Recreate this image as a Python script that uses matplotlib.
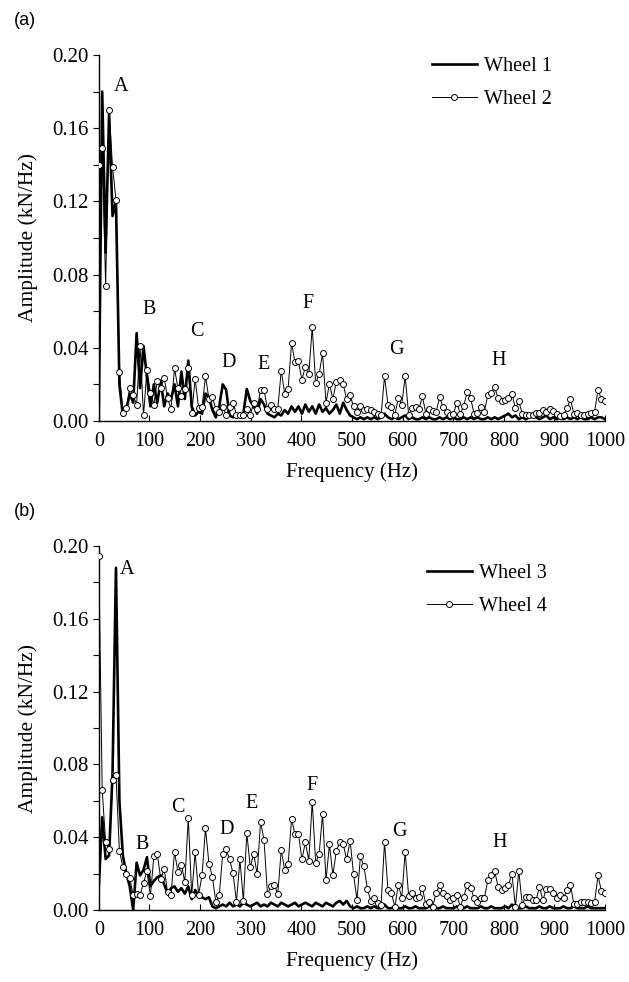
import numpy as np
import matplotlib
matplotlib.use('Agg')
import matplotlib.pyplot as plt
from matplotlib.ticker import MultipleLocator, FormatStrFormatter

plt.rcParams['font.family'] = 'Liberation Serif'
plt.rcParams['font.size'] = 15

# frequency step of the spectra (Hz)
step = 6.8

# (a) wheel 1 (thick line) and wheel 2 (line + open circles), kN/Hz
wheel1 = [0.0, 0.180, 0.092, 0.168, 0.112, 0.120, 0.020, 0.003, 0.006, 0.015,
          0.010, 0.048, 0.018, 0.041, 0.024, 0.008, 0.020, 0.010, 0.022, 0.008,
          0.015, 0.012, 0.020, 0.008, 0.027, 0.012, 0.033, 0.008, 0.003, 0.005,
          0.004, 0.015, 0.013, 0.006, 0.002, 0.008, 0.020, 0.017, 0.003, 0.002,
          0.003, 0.002, 0.004, 0.0175, 0.011, 0.008, 0.004, 0.012, 0.009, 0.004,
          0.003, 0.002, 0.004, 0.003, 0.006, 0.004, 0.008, 0.005, 0.008, 0.004,
          0.009, 0.005, 0.008, 0.004, 0.009, 0.005, 0.007, 0.004, 0.006, 0.009,
          0.004, 0.010, 0.006, 0.003, 0.002, 0.001, 0.002, 0.001, 0.002, 0.001,
          0.002, 0.001, 0.002, 0.004, 0.002, 0.001, 0.002, 0.001, 0.002, 0.003,
          0.001, 0.002, 0.001, 0.001, 0.002, 0.001, 0.002, 0.001, 0.001, 0.002,
          0.001, 0.002, 0.001, 0.002, 0.001, 0.001, 0.002, 0.001, 0.002, 0.001,
          0.002, 0.001, 0.001, 0.002, 0.001, 0.002, 0.001, 0.002, 0.003, 0.004,
          0.002, 0.003, 0.001, 0.002, 0.001, 0.002, 0.003, 0.002, 0.001, 0.002,
          0.003, 0.001, 0.002, 0.001, 0.002, 0.001, 0.002, 0.001, 0.002, 0.001,
          0.002, 0.001, 0.001, 0.002, 0.001, 0.002, 0.002, 0.001]
wheel2 = [0.140, 0.149, 0.074, 0.170, 0.139, 0.121, 0.0265, 0.0045, 0.007, 0.018,
          0.014, 0.009, 0.041, 0.003, 0.028, 0.0155, 0.009, 0.022, 0.018, 0.0235,
          0.0125, 0.0066, 0.0287, 0.018, 0.0135, 0.0175, 0.0287, 0.0045, 0.023, 0.007,
          0.0076, 0.0245, 0.012, 0.013, 0.0067, 0.005, 0.0076, 0.0035, 0.0076, 0.010,
          0.0035, 0.003, 0.0035, 0.0067, 0.003, 0.010, 0.0067, 0.017, 0.017, 0.0066,
          0.0085, 0.0066, 0.0066, 0.0275, 0.015, 0.0175, 0.0427, 0.032, 0.0326, 0.0225,
          0.0296, 0.0255, 0.0513, 0.0206, 0.0256, 0.037, 0.010, 0.0204, 0.012, 0.0215,
          0.0224, 0.020, 0.012, 0.014, 0.008, 0.005, 0.008, 0.006, 0.0066, 0.006,
          0.005, 0.004, 0.003, 0.0244, 0.0089, 0.0076, 0.0035, 0.0125, 0.009, 0.0244,
          0.0035, 0.007, 0.0076, 0.0066, 0.0135, 0.004, 0.0067, 0.0053, 0.005, 0.013,
          0.0076, 0.005, 0.0035, 0.004, 0.010, 0.004, 0.008, 0.016, 0.0125, 0.004,
          0.0045, 0.0076, 0.005, 0.0143, 0.0153, 0.0184, 0.0125, 0.0107, 0.0112, 0.0125,
          0.015, 0.007, 0.0107, 0.004, 0.003, 0.003, 0.0035, 0.0045, 0.0045, 0.0058,
          0.005, 0.0066, 0.0053, 0.004, 0.0027, 0.0035, 0.007, 0.0118, 0.004, 0.0045,
          0.003, 0.0035, 0.004, 0.0045, 0.005, 0.017, 0.012, 0.0107]

# (b) wheel 3 (thick line) and wheel 4 (line + open circles), kN/Hz
wheel3 = [0.012, 0.051, 0.028, 0.030, 0.075, 0.188, 0.060, 0.030, 0.020, 0.013,
          0.0, 0.026, 0.019, 0.022, 0.029, 0.013, 0.016, 0.018, 0.019, 0.014,
          0.009, 0.012, 0.013, 0.010, 0.012, 0.009, 0.013, 0.006, 0.011, 0.008,
          0.007, 0.006, 0.007, 0.002, 0.001, 0.002, 0.003, 0.002, 0.004, 0.002,
          0.003, 0.002, 0.004, 0.003, 0.002, 0.003, 0.004, 0.002, 0.003, 0.002,
          0.004, 0.003, 0.002, 0.004, 0.003, 0.002, 0.003, 0.004, 0.002, 0.003,
          0.004, 0.003, 0.002, 0.004, 0.003, 0.002, 0.004, 0.003, 0.002, 0.004,
          0.005, 0.003, 0.005, 0.002, 0.001, 0.002, 0.001, 0.001, 0.002, 0.001,
          0.002, 0.001, 0.001, 0.003, 0.001, 0.001, 0.002, 0.001, 0.001, 0.002,
          0.001, 0.001, 0.002, 0.001, 0.001, 0.001, 0.002, 0.001, 0.001, 0.001,
          0.002, 0.001, 0.001, 0.001, 0.002, 0.001, 0.001, 0.002, 0.001, 0.001,
          0.001, 0.002, 0.001, 0.001, 0.002, 0.001, 0.001, 0.001, 0.002, 0.001,
          0.003, 0.002, 0.001, 0.001, 0.002, 0.001, 0.001, 0.001, 0.002, 0.001,
          0.001, 0.002, 0.001, 0.001, 0.001, 0.002, 0.001, 0.001, 0.002, 0.001,
          0.001, 0.001, 0.002, 0.001, 0.001, 0.001, 0.001, 0.001]
wheel4 = [0.1946, 0.066, 0.0371, 0.0333, 0.0712, 0.074, 0.0326, 0.0236, 0.0196, 0.0176,
          0.0082, 0.0087, 0.008, 0.015, 0.0214, 0.0077, 0.0295, 0.031, 0.017, 0.0225,
          0.0097, 0.0085, 0.032, 0.021, 0.025, 0.0152, 0.0507, 0.0082, 0.0317, 0.0085,
          0.019, 0.045, 0.0255, 0.0184, 0.0045, 0.0082, 0.0308, 0.0335, 0.0278, 0.0202,
          0.0045, 0.0278, 0.005, 0.0424, 0.0236, 0.031, 0.0197, 0.0484, 0.0386, 0.0087,
          0.0132, 0.0136, 0.009, 0.033, 0.022, 0.0255, 0.050, 0.0415, 0.042, 0.0278,
          0.0371, 0.0272, 0.0594, 0.026, 0.0306, 0.053, 0.0164, 0.036, 0.019, 0.0326,
          0.0371, 0.036, 0.0278, 0.038, 0.0197, 0.0055, 0.0295, 0.0241, 0.0118, 0.005,
          0.0067, 0.004, 0.003, 0.0375, 0.011, 0.0091, 0.0018, 0.0139, 0.0067, 0.032,
          0.0078, 0.0091, 0.0067, 0.0073, 0.0121, 0.0031, 0.0046, 0.0018, 0.0096, 0.0136,
          0.0091, 0.0078, 0.0055, 0.0067, 0.0085, 0.0018, 0.0073, 0.0139, 0.0121, 0.0067,
          0.0042, 0.0064, 0.0067, 0.0163, 0.0194, 0.0212, 0.0127, 0.011, 0.0121, 0.0139,
          0.0199, 0.0018, 0.0212, 0.003, 0.0073, 0.0073, 0.0055, 0.0055, 0.0127, 0.0055,
          0.0118, 0.0114, 0.0096, 0.0064, 0.0085, 0.0064, 0.011, 0.0139, 0.0031, 0.0031,
          0.0042, 0.0046, 0.0042, 0.0037, 0.0042, 0.019, 0.0103, 0.0091]

# peak letters: (letter, frequency, amplitude)
peaks_a = [('A', 45, 0.183), ('B', 100, 0.061), ('C', 194, 0.049), ('D', 256, 0.032),
           ('E', 325, 0.031), ('F', 414, 0.064), ('G', 588, 0.039), ('H', 789, 0.033)]
peaks_b = [('A', 56, 0.187), ('B', 86, 0.036), ('C', 156, 0.0565), ('D', 253, 0.044),
           ('E', 302, 0.0585), ('F', 421, 0.0686), ('G', 593, 0.043), ('H', 792, 0.037)]


def panel(ax, thick, marked, names, peaks, tag, leg_anchor):
    f1 = np.arange(len(thick)) * step
    f2 = np.arange(len(marked)) * step
    ax.plot(f1, thick, color='black', lw=1.9, label=names[0], zorder=2)
    ax.plot(f2, marked, color='black', lw=0.7, marker='o', ms=4.3,
            mfc='white', mec='black', mew=0.7, label=names[1], zorder=3)
    for txt, x, y in peaks:
        ax.text(x, y, txt, ha='center', va='center', fontsize=14.5)
    ax.set_xlim(0, 1000)
    ax.set_ylim(0, 0.20)
    ax.xaxis.set_major_locator(MultipleLocator(100))
    ax.yaxis.set_major_locator(MultipleLocator(0.04))
    ax.yaxis.set_minor_locator(MultipleLocator(0.02))
    ax.yaxis.set_major_formatter(FormatStrFormatter('%.2f'))
    ax.spines['top'].set_visible(False)
    ax.spines['right'].set_visible(False)
    ax.spines['left'].set_linewidth(1.0)
    ax.spines['bottom'].set_linewidth(1.0)
    ax.tick_params(axis='x', direction='in', length=4, width=0.8, pad=8, labelsize=14.5)
    ax.tick_params(axis='y', which='both', direction='out', length=4, width=0.8,
                   labelsize=15)
    ax.set_xlabel('Frequency (Hz)', fontsize=15, labelpad=8)
    ax.set_ylabel('Amplitude (kN/Hz)', fontsize=15.5, labelpad=10)
    ax.legend(loc='upper right', bbox_to_anchor=leg_anchor, frameon=False,
              handlelength=2.2, handletextpad=0.35, labelspacing=0.7, fontsize=14.5)
    ax.text(-0.168, 1.095, tag, transform=ax.transAxes, family='Liberation Sans',
            fontsize=13, ha='left', va='center')


fig = plt.figure(figsize=(6.29, 9.82), dpi=100)
ax1 = fig.add_axes([0.157, 0.5713, 0.805, 0.3727])
ax2 = fig.add_axes([0.157, 0.0733, 0.805, 0.3707])

panel(ax1, wheel1, wheel2, ['Wheel 1', 'Wheel 2'], peaks_a, '(a)', (0.93, 1.045))
panel(ax2, wheel3, wheel4, ['Wheel 3', 'Wheel 4'], peaks_b, '(b)', (0.92, 1.0))

fig.savefig('out.png', dpi=100)
